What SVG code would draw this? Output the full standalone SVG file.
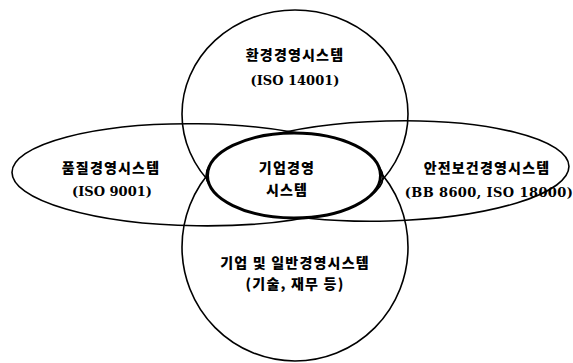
<svg xmlns="http://www.w3.org/2000/svg" width="573" height="363" viewBox="0 0 573 363">
<style>
.sh{fill:none;stroke:#000;stroke-width:1.6}
.core{fill:#fff;stroke:#000;stroke-width:3}
.ko{font-family:"Noto Sans CJK KR",sans-serif;font-weight:900;font-size:14px;letter-spacing:1.2px;text-anchor:middle;fill:#000}
.la{font-family:"DejaVu Serif","Noto Sans CJK KR",serif;font-weight:bold;font-size:13px;text-anchor:middle;fill:#000}
</style>
<rect width="573" height="363" fill="#fff"/>
<g id="env">
<ellipse class="sh" cx="295" cy="114" rx="113" ry="104"/>
<text class="ko" x="295" y="60">환경경영시스템</text>
<text class="la" x="295" y="85">(ISO 14001)</text>
</g>
<g id="corp">
<ellipse class="sh" cx="295" cy="247" rx="113" ry="114"/>
<text class="ko" x="295" y="268">기업 및 일반경영시스템</text>
<text class="ko" x="295" y="289">(기술, 재무 등)</text>
</g>
<g id="quality">
<ellipse class="sh" cx="197.5" cy="174.8" rx="185.5" ry="51" transform="rotate(0.8 197.5 174.8)"/>
<text class="ko" x="111" y="173">품질경영시스템</text>
<text class="la" x="112" y="196">(ISO 9001)</text>
</g>
<g id="safety">
<ellipse class="sh" cx="387.5" cy="171" rx="181.5" ry="50" transform="rotate(-1.5 387.5 171)"/>
<text class="ko" x="487" y="173">안전보건경영시스템</text>
<text class="la" x="489" y="197" letter-spacing="0.4">(BB 8600, ISO 18000)</text>
</g>
<g id="core">
<ellipse class="core" cx="294" cy="175.5" rx="86.5" ry="42.5"/>
<text class="ko" x="287" y="173">기업경영</text>
<text class="ko" x="287" y="195">시스템</text>
</g>
<g id="connectors"></g>
</svg>
